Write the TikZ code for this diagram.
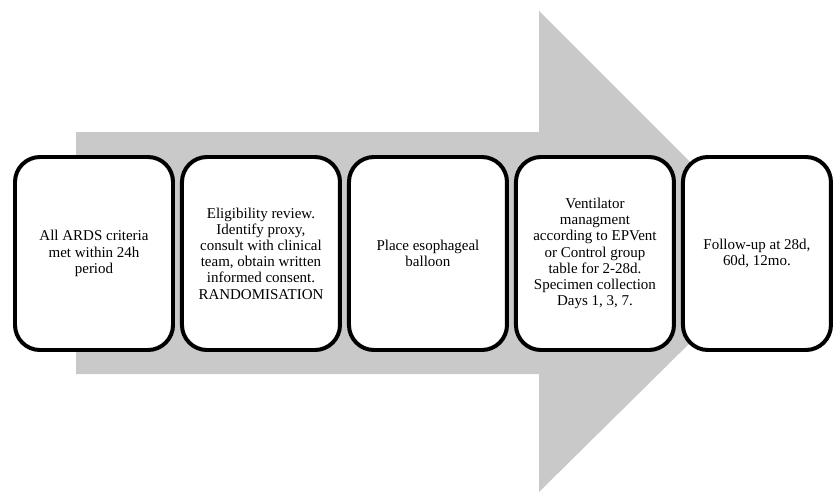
\documentclass[tikz,border=0pt]{standalone}
\usepackage{fontspec}
\setmainfont{Liberation Serif}
\usepackage{tikz}
\usetikzlibrary{positioning}
\definecolor{ArrowGray}{HTML}{C9C9C9}

\begin{document}
\begin{tikzpicture}[
  x=0.3mm,y=-0.3mm,
  font=\fontsize{12.8pt}{13.8pt}\selectfont,
  stage/.style={draw=black,line width=3.4pt,rounded corners=7.5mm,fill=white,
    minimum width=47.4mm,minimum height=57.9mm,align=center,inner sep=1mm},
  node distance=1.5mm
]
\useasboundingbox (0,0) rectangle (834,492);
% Big grey arrow behind the stages.
\fill[ArrowGray] (76,132) -- (539,132) -- (539,11) -- (781,253)
  -- (539,492) -- (539,374) -- (76,374) -- cycle;

% Stages, left to right.
\node[stage] (criteria) at (94,253.5)
  {All ARDS criteria\\met within 24h\\period};
\node[stage,right=of criteria] (consent)
  {Eligibility review.\\Identify proxy,\\consult with clinical\\team, obtain written\\informed consent.\\RANDOMISATION};
\node[stage,right=of consent] (balloon)
  {Place esophageal\\balloon};
\node[stage,right=of balloon] (ventilator)
  {Ventilator\\managment\\according to EPVent\\or Control group\\table for 2-28d.\\Specimen collection\\Days 1, 3, 7.};
\node[stage,right=of ventilator,minimum width=44.4mm] (followup)
  {Follow-up at 28d,\\60d, 12mo.};
\end{tikzpicture}
\end{document}
